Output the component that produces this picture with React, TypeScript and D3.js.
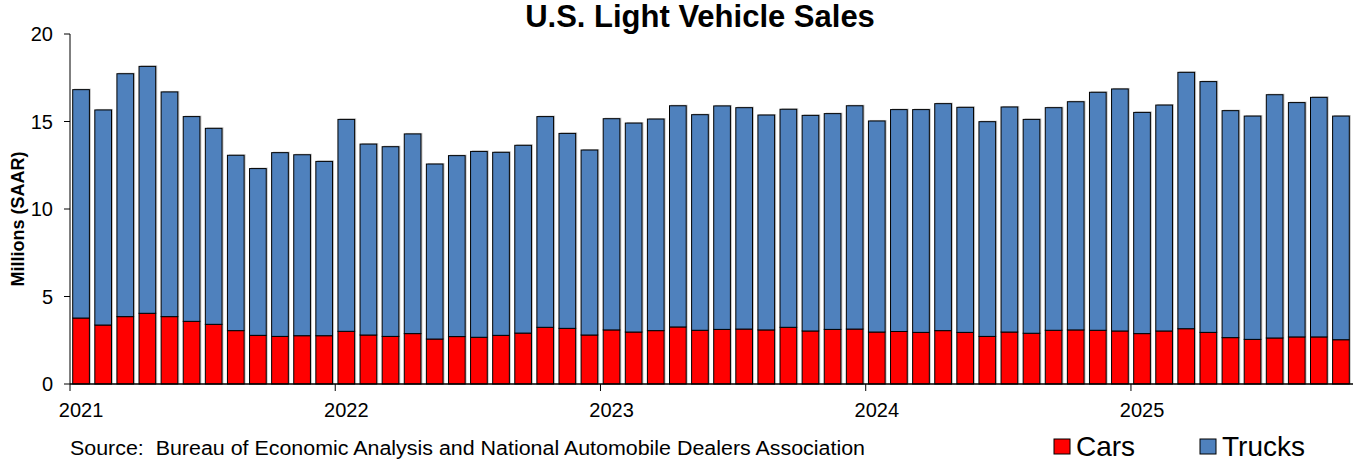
import React from "react";
import * as d3 from "d3";

const years = [2021, 2022, 2023, 2024, 2025];
const monthsInYear = [12, 12, 12, 12, 10];

const cars = [
  3.77, 3.37, 3.85, 4.04, 3.85, 3.58, 3.41, 3.05, 2.78, 2.72, 2.76, 2.76,
  3.01, 2.8, 2.72, 2.88, 2.57, 2.71, 2.67, 2.78, 2.91, 3.24, 3.18, 2.8,
  3.09, 2.97, 3.05, 3.26, 3.07, 3.12, 3.14, 3.09, 3.24, 3.03, 3.12, 3.14,
  2.97, 3.0, 2.95, 3.05, 2.95, 2.72, 2.97, 2.9, 3.07, 3.09, 3.07, 3.03,
  2.88, 3.03, 3.16, 2.95, 2.65, 2.55, 2.63, 2.69, 2.69, 2.53,
];

const trucks = [
  13.05, 12.29, 13.88, 14.11, 12.84, 11.7, 11.2, 10.02, 9.53, 10.5, 10.34, 9.96,
  12.11, 10.91, 10.84, 11.41, 10.0, 10.34, 10.62, 10.46, 10.73, 12.04, 11.14, 10.57,
  12.07, 11.94, 12.09, 12.64, 12.32, 12.77, 12.65, 12.28, 12.46, 12.32, 12.33, 12.76,
  12.06, 12.68, 12.73, 12.97, 12.86, 12.27, 12.86, 12.22, 12.72, 13.04, 13.6, 13.83,
  12.64, 12.91, 14.65, 14.33, 12.97, 12.76, 13.9, 13.39, 13.69, 12.78,
];

const yTicks = [0, 5, 10, 15, 20];
const seriesKeys = ["cars", "trucks"];
const seriesNames = ["Cars", "Trucks"];
const seriesColors = ["#FF0000", "#4F81BD"];

const months: { key: string; year: number; month: number }[] = [];
years.forEach((y, yi) => {
  for (let m = 0; m < monthsInYear[yi]; m++) {
    months.push({ key: `${y}-${m + 1}`, year: y, month: m });
  }
});

const rows = months.map((m, i) => ({ key: m.key, cars: cars[i], trucks: trucks[i] }));

const W = 1358;
const H = 461;
const left = 70;
const right = 1352;
const top = 34;
const bottom = 384;
const FONT = "Liberation Sans, Arial, sans-serif";

export default function App() {
  const x = d3
    .scaleBand<string>()
    .domain(months.map((m) => m.key))
    .range([left, right])
    .paddingInner(0.245)
    .paddingOuter(0.1225);
  const y = d3.scaleLinear().domain([0, 20]).range([bottom, top]);
  const stack = d3.stack<any>().keys(seriesKeys)(rows);
  const step = x.step();
  const bw = x.bandwidth();

  const januaries = months.filter((m) => m.month === 0);

  return (
    <svg
      width={W}
      height={H}
      style={{ position: "absolute", left: 0, top: 0, background: "#fff" }}
      fontFamily={FONT}
    >
      <text x={700} y={27} textAnchor="middle" fontSize={31} fontWeight="bold" fill="#000">
        U.S. Light Vehicle Sales
      </text>

      {/* shadows */}
      {rows.map((r) => (
        <rect
          key={"sh" + r.key}
          x={(x(r.key) as number) + 1.5}
          y={y(r.cars + r.trucks) - 1}
          width={bw}
          height={bottom - y(r.cars + r.trucks) + 1}
          fill="#888"
          opacity={0.5}
        />
      ))}

      {stack.map((s, si) => (
        <g key={s.key} fill={seriesColors[si]}>
          {s.map((d: any) => (
            <rect
              key={d.data.key}
              x={x(d.data.key)}
              y={y(d[1])}
              width={bw}
              height={y(d[0]) - y(d[1])}
              stroke="#000"
              strokeWidth={1}
            />
          ))}
        </g>
      ))}

      {/* y axis */}
      <line x1={left} x2={left} y1={top} y2={bottom} stroke="#000" strokeWidth={1} />
      {yTicks.map((t) => (
        <g key={t}>
          <line x1={left - 6} x2={left} y1={y(t)} y2={y(t)} stroke="#000" />
          <text x={53} y={y(t)} dy="0.35em" textAnchor="end" fontSize={20} fill="#000">
            {t}
          </text>
        </g>
      ))}
      <text
        transform={`translate(24,${(top + bottom) / 2 + 10}) rotate(-90)`}
        textAnchor="middle"
        fontSize={18}
        fontWeight="bold"
        fill="#000"
      >
        Millions (SAAR)
      </text>

      {/* x axis */}
      <line x1={left} x2={1353} y1={bottom} y2={bottom} stroke="#000" strokeWidth={1.5} />
      {januaries.map((m) => {
        const bx = (x(m.key) as number) - (step * 0.245) / 2;
        return (
          <g key={m.key}>
            <line x1={bx} x2={bx} y1={bottom} y2={bottom + 7} stroke="#000" />
            <text x={(x(m.key) as number) + bw / 2} y={417} textAnchor="middle" fontSize={20} fill="#000">
              {m.year}
            </text>
          </g>
        );
      })}

      <text x={70} y={455} fontSize={19.5} fill="#000" textLength={795} lengthAdjust="spacingAndGlyphs">
        Source:{"\u00a0\u00a0"}Bureau of Economic Analysis and National Automobile Dealers Association
      </text>

      {/* legend */}
      {seriesNames.map((n, i) => {
        const lx = [1054, 1200][i];
        return (
          <g key={n}>
            <rect x={lx} y={439} width={16} height={15} fill={seriesColors[i]} stroke="#000" strokeWidth={1} />
            <text x={lx + 22} y={455.5} fontSize={28} fill="#000">
              {n}
            </text>
          </g>
        );
      })}
    </svg>
  );
}
